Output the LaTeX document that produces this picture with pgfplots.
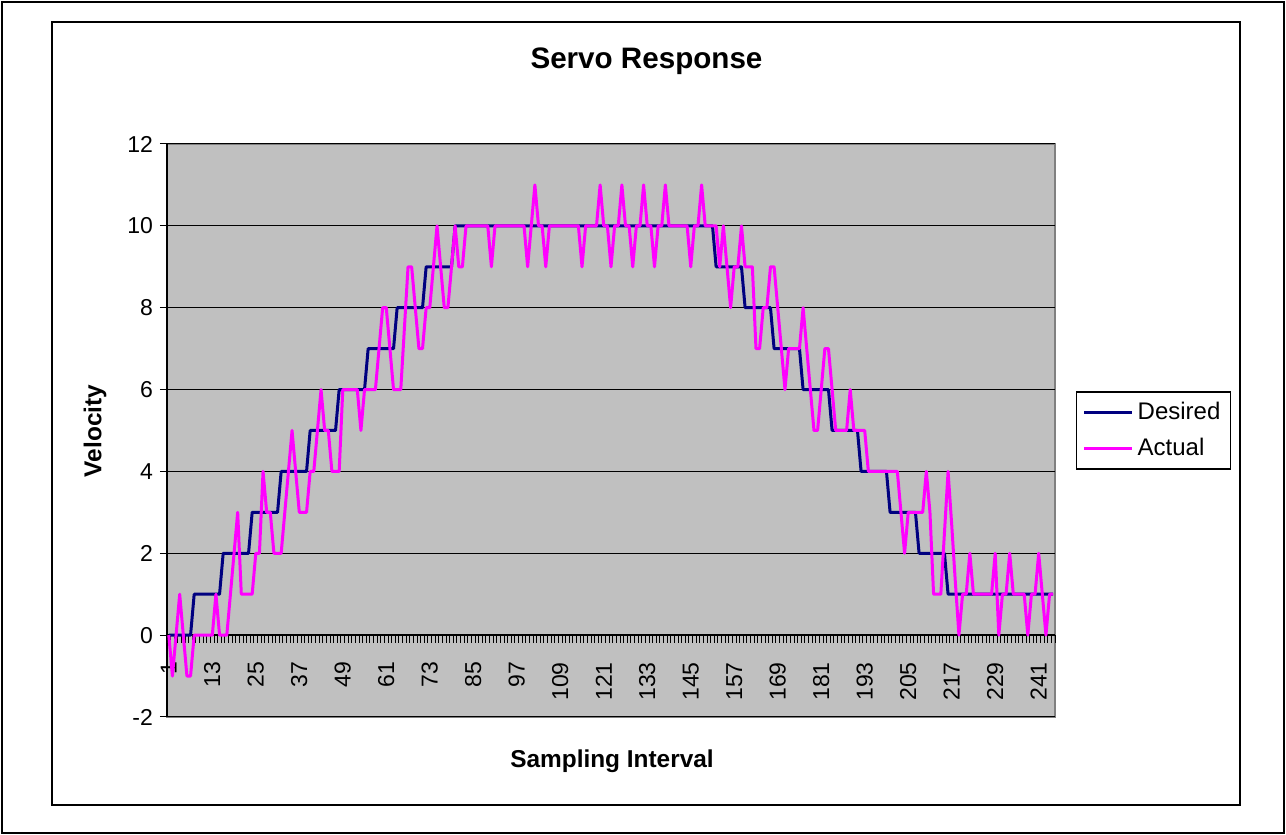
\documentclass[border=0pt]{standalone}
\usepackage{fontspec}
\setmainfont{Liberation Sans}
\usepackage{pgfplots}
\usepackage{pgfplotstable}
\pgfplotsset{compat=1.18}
\definecolor{plotbg}{RGB}{192,192,192}
\definecolor{navyline}{RGB}{0,0,128}
\definecolor{magline}{RGB}{255,0,255}
\definecolor{framegray}{RGB}{128,128,128}
\pgfplotstableread[row sep=\\]{
k d a\\
1 0 0\\ 2 0 -1\\ 3 0 0\\ 4 0 1\\ 5 0 0\\ 6 0 -1\\ 7 0 -1\\ 8 1 0\\ 9 1 0\\ 10 1 0\\
11 1 0\\ 12 1 0\\ 13 1 0\\ 14 1 1\\ 15 1 0\\ 16 2 0\\ 17 2 0\\ 18 2 1\\ 19 2 2\\ 20 2 3\\
21 2 1\\ 22 2 1\\ 23 2 1\\ 24 3 1\\ 25 3 2\\ 26 3 2\\ 27 3 4\\ 28 3 3\\ 29 3 3\\ 30 3 2\\
31 3 2\\ 32 4 2\\ 33 4 3\\ 34 4 4\\ 35 4 5\\ 36 4 4\\ 37 4 3\\ 38 4 3\\ 39 4 3\\ 40 5 4\\
41 5 4\\ 42 5 5\\ 43 5 6\\ 44 5 5\\ 45 5 5\\ 46 5 4\\ 47 5 4\\ 48 6 4\\ 49 6 6\\ 50 6 6\\
51 6 6\\ 52 6 6\\ 53 6 6\\ 54 6 5\\ 55 6 6\\ 56 7 6\\ 57 7 6\\ 58 7 6\\ 59 7 7\\ 60 7 8\\
61 7 8\\ 62 7 7\\ 63 7 6\\ 64 8 6\\ 65 8 6\\ 66 8 7.5\\ 67 8 9\\ 68 8 9\\ 69 8 8\\ 70 8 7\\
71 8 7\\ 72 9 8\\ 73 9 8\\ 74 9 9\\ 75 9 10\\ 76 9 9\\ 77 9 8\\ 78 9 8\\ 79 9 9\\ 80 10 10\\
81 10 9\\ 82 10 9\\ 83 10 10\\ 84 10 10\\ 85 10 10\\ 86 10 10\\ 87 10 10\\ 88 10 10\\ 89 10 10\\ 90 10 9\\
91 10 10\\ 92 10 10\\ 93 10 10\\ 94 10 10\\ 95 10 10\\ 96 10 10\\ 97 10 10\\ 98 10 10\\ 99 10 10\\ 100 10 9\\
101 10 10\\ 102 10 11\\ 103 10 10\\ 104 10 10\\ 105 10 9\\ 106 10 10\\ 107 10 10\\ 108 10 10\\ 109 10 10\\ 110 10 10\\
111 10 10\\ 112 10 10\\ 113 10 10\\ 114 10 10\\ 115 10 9\\ 116 10 10\\ 117 10 10\\ 118 10 10\\ 119 10 10\\ 120 10 11\\
121 10 10\\ 122 10 10\\ 123 10 9\\ 124 10 10\\ 125 10 10\\ 126 10 11\\ 127 10 10\\ 128 10 10\\ 129 10 9\\ 130 10 10\\
131 10 10\\ 132 10 11\\ 133 10 10\\ 134 10 10\\ 135 10 9\\ 136 10 10\\ 137 10 10\\ 138 10 11\\ 139 10 10\\ 140 10 10\\
141 10 10\\ 142 10 10\\ 143 10 10\\ 144 10 10\\ 145 10 9\\ 146 10 10\\ 147 10 10\\ 148 10 11\\ 149 10 10\\ 150 10 10\\
151 10 10\\ 152 9 10\\ 153 9 9\\ 154 9 10\\ 155 9 9\\ 156 9 8\\ 157 9 9\\ 158 9 9\\ 159 9 10\\ 160 8 9\\
161 8 9\\ 162 8 9\\ 163 8 7\\ 164 8 7\\ 165 8 8\\ 166 8 8\\ 167 8 9\\ 168 7 9\\ 169 7 8\\ 170 7 7\\
171 7 6\\ 172 7 7\\ 173 7 7\\ 174 7 7\\ 175 7 7\\ 176 6 8\\ 177 6 7\\ 178 6 6\\ 179 6 5\\ 180 6 5\\
181 6 6\\ 182 6 7\\ 183 6 7\\ 184 5 6\\ 185 5 5\\ 186 5 5\\ 187 5 5\\ 188 5 5\\ 189 5 6\\ 190 5 5\\
191 5 5\\ 192 4 5\\ 193 4 5\\ 194 4 4\\ 195 4 4\\ 196 4 4\\ 197 4 4\\ 198 4 4\\ 199 4 4\\ 200 3 4\\
201 3 4\\ 202 3 4\\ 203 3 3\\ 204 3 2\\ 205 3 3\\ 206 3 3\\ 207 3 3\\ 208 2 3\\ 209 2 3\\ 210 2 4\\
211 2 3\\ 212 2 1\\ 213 2 1\\ 214 2 1\\ 215 2 2.5\\ 216 1 4\\ 217 1 2.7\\ 218 1 1.3\\ 219 1 0\\ 220 1 1\\
221 1 1\\ 222 1 2\\ 223 1 1\\ 224 1 1\\ 225 1 1\\ 226 1 1\\ 227 1 1\\ 228 1 1\\ 229 1 2\\ 230 1 0\\
231 1 1\\ 232 1 1\\ 233 1 2\\ 234 1 1\\ 235 1 1\\ 236 1 1\\ 237 1 1\\ 238 1 0\\ 239 1 1\\ 240 1 1\\
241 1 2\\ 242 1 1\\ 243 1 0\\ 244 1 1\\ 245 1 1\\
}\servo
\begin{document}
\begin{tikzpicture}
\useasboundingbox (0,0) rectangle (643pt,417.5pt);
\draw[line width=1pt] (1pt,1pt) rectangle (642pt,416.5pt);
\draw[line width=0.75pt] (26pt,15pt) rectangle (620pt,406.5pt);
\begin{axis}[
  at={(83.5pt,59pt)}, anchor=south west,
  scale only axis, width=444pt, height=286.5pt,
  xmin=0.5, xmax=245.5, ymin=-2, ymax=12,
  axis x line*=middle, axis y line*=left,
  axis line style={black, line width=0.75pt},
  axis background/.style={fill=plotbg, draw=framegray, line width=0.75pt},
  ytick={-2,0,...,12},
  xtick={1,13,...,241},
  minor xtick={0.5,1.5,...,245.5},
  tick align=outside,
  major tick length=3.5pt, minor tick length=3.8pt,
  every major x tick/.append style={draw=none},
  tick style={black, line width=0.5pt},
  ymajorgrids, major grid style={black, line width=0.5pt},
  xticklabel shift=6.5pt,
  xticklabel style={rotate=90, anchor=east, font=\fontsize{11.5}{13}\selectfont},
  yticklabel style={font=\fontsize{11.5}{13}\selectfont},
  /pgf/number format/assume math mode=true,
  legend style={at={(1.0236,0.5)}, anchor=west, draw=black, line width=0.75pt, fill=white,
    font=\fontsize{12}{14}\selectfont, inner xsep=3pt, inner ysep=3pt, row sep=4pt},
  legend cell align=left,
  legend image code/.code={\draw[#1, line width=1.5pt] (0pt,0pt) -- (24pt,0pt);},
]
\addplot[navyline, line width=1.5pt, line join=round] table[x=k, y=d] {\servo};
\addplot[magline, line width=1.5pt, line join=round] table[x=k, y=a] {\servo};
\legend{Desired, Actual}
\end{axis}
\node[font=\bfseries\fontsize{14.8}{17}\selectfont] at (323.25pt,387pt) {Servo Response};
\node[font=\bfseries\fontsize{12.2}{14}\selectfont] at (306pt,37pt) {Sampling Interval};
\node[rotate=90, font=\bfseries\fontsize{12.2}{14}\selectfont] at (47.5pt,202pt) {Velocity};
\end{tikzpicture}
\end{document}
